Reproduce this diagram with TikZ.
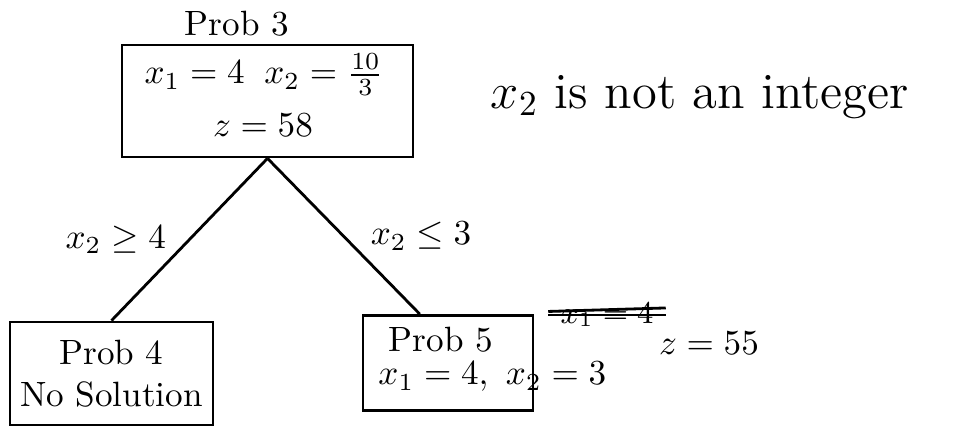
\documentclass[tikz,border=0pt]{standalone}
\usetikzlibrary{positioning}

\tikzset{
    probbox/.style={draw, thick, rectangle, inner sep=0pt},
    branch/.style={thick},
}

\begin{document}
\begin{tikzpicture}
    \useasboundingbox (0,0) rectangle (9.57,4.37);

    % Prob 3 (root)
    \node[probbox, minimum width=2.91cm, minimum height=1.12cm] (p3) at (2.675,3.36) {};
    \node (p3title) at (2.37,4.13) {Prob 3};
    \node (p3x) at (2.64,3.62) {$x_1=4\;\; x_2=\frac{10}{3}$};
    \node (p3z) at (2.63,3.12) {$z=58$};
    \node (note) at (7.0,3.4) {\Large $x_2$ is not an integer};

    % Prob 4 (left branch)
    \node[probbox, minimum width=2.03cm, minimum height=1.03cm, align=center] (p4) at (1.115,0.635) {Prob 4\\No Solution};

    % Prob 5 (right branch)
    \node[probbox, minimum width=1.7cm, minimum height=0.95cm] (p5) at (4.48,0.74) {};
    \node (p5title) at (4.41,0.97) {Prob 5};
    \node[anchor=west] (p5x) at (3.66,0.6) {$x_1=4,\ x_2=3$};
    \node (p5z) at (7.09,0.94) {$z=55$};
    \node (p5old) at (6.07,1.22) {\small $x_1=4$};
    \draw[thick] (p5old.west) -- (p5old.east);
    \draw[thick] ([yshift=1pt]p5old.west) -- ([yshift=2pt]p5old.east);

    % Branches
    \draw[branch] (p3.south) -- (p4.north) node[midway, left=3pt] (c4) {$x_2\geq 4$};
    \draw[branch] (p3.south) -- (p5.120) node[midway, right=4pt] (c5) {$x_2\leq 3$};

\end{tikzpicture}
\end{document}
